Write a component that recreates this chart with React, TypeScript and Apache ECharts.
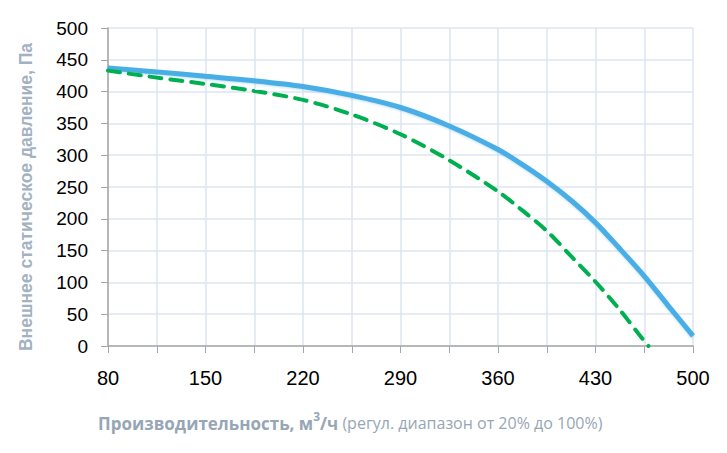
import React, { useEffect, useRef } from "react";
import * as echarts from "echarts";

const flowTicks = [80, 115, 150, 185, 220, 255, 290, 325, 360, 395, 430, 465, 500];
const blueX = [80, 115, 150, 185, 220, 255, 290, 325, 360, 377, 395, 413, 430, 447, 465, 482, 500];
const blueY = [437, 431, 424, 417, 408, 394, 375, 346, 309, 286, 259, 228, 194, 154, 110, 64, 16];
const greenX = [80, 115, 150, 185, 220, 255, 290, 325, 360, 377, 395, 413, 430, 447, 461, 468];
const greenY = [433, 422, 412, 401, 387, 364, 333, 292, 243, 214, 181, 140, 101, 58, 19, 0];
const yTitle = "Внешнее статическое давление, Па";
const xTitleBold = "Производительность, м";
const xTitleSup = "3";
const xTitleBold2 = "/ч";
const xTitleNormal = " (регул. диапазон от 20% до 100%)";

export default function App() {
  const ref = useRef<HTMLDivElement>(null);
  useEffect(() => {
    document.body.style.margin = "0";
    const chart = echarts.init(ref.current!, null, { renderer: "svg" });
    const titleColor = "#97a6b6";
    const labelFont = "'Liberation Sans', Arial, sans-serif";
    chart.setOption({
      animation: false,
      grid: { left: 108, right: 34, top: 28, bottom: 107, containLabel: false },
      xAxis: {
        type: "value",
        min: flowTicks[0],
        max: flowTicks[flowTicks.length - 1],
        interval: 35,
        axisLine: { show: true, lineStyle: { color: "#a6a6a6", width: 1.5 } },
        axisTick: { show: true, length: 7, lineStyle: { color: "#a6a6a6" } },
        axisLabel: {
          margin: 22,
          fontSize: 20,
          fontFamily: labelFont,
          color: "#000",
          formatter: (v: number) => ((v - 80) % 70 === 0 ? String(v) : ""),
        },
        splitLine: { show: true, lineStyle: { color: "#dbe5f1", width: 1.5 } },
      },
      yAxis: {
        type: "value",
        min: 0,
        max: 500,
        interval: 50,
        axisLine: { show: true, lineStyle: { color: "#a6a6a6", width: 1.5 } },
        axisTick: { show: true, length: 7, lineStyle: { color: "#a6a6a6" } },
        axisLabel: {
          margin: 20,
          fontSize: 19,
          fontFamily: labelFont,
          color: "#000",
          align: "right",
        },
        splitLine: { show: true, lineStyle: { color: "#dde6f0", width: 1.5 } },
      },
      graphic: [
        {
          type: "text",
          x: 26,
          y: 197,
          rotation: Math.PI / 2,
          style: {
            text: yTitle,
            fontSize: 17.5,
            fontWeight: "bold",
            fontFamily: labelFont,
            fill: "#a3b2c2",
            textAlign: "center",
            textVerticalAlign: "middle",
          },
        },
        {
          type: "text",
          x: 98,
          y: 423,
          style: {
            text:
              "{b|" + xTitleBold + "}{s|" + xTitleSup + "}{b|" + xTitleBold2 + "}{n|" + xTitleNormal + "}",
            textVerticalAlign: "middle",
            rich: {
              b: { fontSize: 17, fontWeight: "bold", fontFamily: "Open Sans", fill: titleColor, color: titleColor },
              s: { fontSize: 12, fontWeight: "bold", fontFamily: "Open Sans", fill: titleColor, color: titleColor, padding: [0, 0, 13, 0] },
              n: { fontSize: 16, fontFamily: "Open Sans", fill: titleColor, color: titleColor },
            },
          },
        },
      ],
      series: [
        {
          type: "line",
          data: blueX.map((x, i) => [x, blueY[i]]),
          smooth: 0.3,
          symbol: "none",
          z: 3,
          lineStyle: { color: "#4aaee6", width: 5, shadowColor: "rgba(74,174,230,0.35)", shadowBlur: 2, shadowOffsetY: 1 },
        },
        {
          type: "line",
          data: greenX.map((x, i) => [x, greenY[i]]),
          smooth: 0.3,
          symbol: "none",
          z: 4,
          lineStyle: { color: "#00b050", width: 4, type: [12, 9], cap: "round" },
        },
      ],
    });
    return () => chart.dispose();
  }, []);
  return <div ref={ref} style={{ width: 727, height: 453 }} />;
}
